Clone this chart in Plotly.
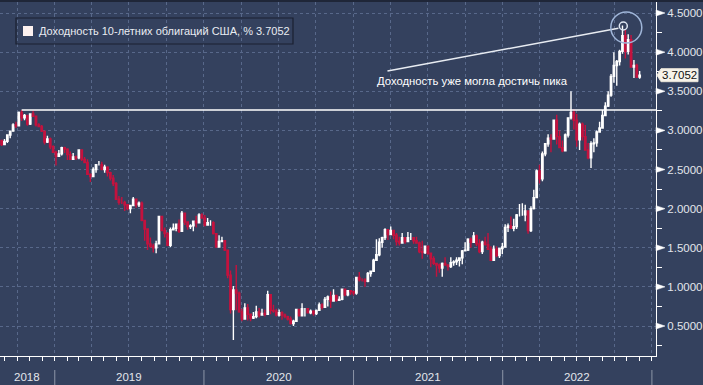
import pandas as pd
import plotly.graph_objects as go

# ---------------- data (weekly bars, Fridays) ----------------
first_week = "2018-08-24"

open_ = [
    2.87, 2.82, 2.86, 2.94, 2.99, 3.07, 3.06, 3.23, 3.16, 3.19, 3.08, 3.21, 3.18, 3.07, 3.05, 2.99, 2.85, 2.89, 2.79,
    2.72, 2.67, 2.70, 2.78, 2.76, 2.69, 2.63, 2.66, 2.65, 2.75, 2.63, 2.59, 2.44, 2.41, 2.50, 2.56, 2.56, 2.50, 2.53, 2.46,
    2.39, 2.32, 2.12, 2.08, 2.08, 2.05, 2.00, 2.04, 2.12, 2.05, 2.07, 1.85, 1.74, 1.55, 1.52, 1.50, 1.55, 1.90, 1.72, 1.68,
    1.53, 1.73, 1.75, 1.80, 1.71, 1.94, 1.83, 1.77, 1.78, 1.84, 1.82, 1.92,
    1.88, 1.79, 1.82, 1.82, 1.68, 1.51, 1.58, 1.59, 1.47, 1.15, 0.71, 0.96, 0.92, 0.68, 0.59, 0.73, 0.65, 0.60, 0.62, 0.68,
    0.64, 0.66, 0.65, 0.90, 0.70, 0.69, 0.64, 0.67, 0.64, 0.62, 0.59, 0.53, 0.56, 0.71, 0.63, 0.72, 0.72, 0.67, 0.69, 0.66,
    0.70, 0.77, 0.74, 0.84, 0.87, 0.82, 0.89, 0.83, 0.84, 0.97, 0.90, 0.95,
    0.94, 0.92, 1.12, 1.09, 1.09, 1.07, 1.17, 1.20, 1.34, 1.41, 1.57, 1.63, 1.73, 1.67, 1.72, 1.66, 1.58, 1.56, 1.63, 1.58,
    1.63, 1.63, 1.59, 1.56, 1.45, 1.44, 1.52, 1.43, 1.36, 1.30, 1.28, 1.24, 1.30, 1.28, 1.26, 1.31, 1.32, 1.34, 1.37, 1.46,
    1.47, 1.61, 1.57, 1.65, 1.55, 1.45, 1.57, 1.54, 1.48, 1.34, 1.48, 1.40, 1.49,
    1.51, 1.76, 1.78, 1.75, 1.77, 1.92, 1.92, 1.92, 1.97, 1.72, 2.00, 2.14, 2.48, 2.38, 2.70, 2.83, 2.90, 2.89, 3.13, 2.92,
    2.78, 2.74, 2.94, 3.16, 3.23, 3.13, 2.88, 3.08, 2.92, 2.75, 2.65, 2.83, 2.84, 2.98, 3.03, 3.19, 3.31, 3.45, 3.69, 3.83,
    3.88, 4.01, 4.21, 4.01, 4.16, 3.81, 3.83, 3.68,
]
high = [
    2.87, 2.89, 2.94, 3.00, 3.09, 3.11, 3.24, 3.26, 3.21, 3.20, 3.22, 3.25, 3.19, 3.09, 3.07, 3.00, 2.93, 2.91, 2.81,
    2.74, 2.75, 2.79, 2.79, 2.77, 2.73, 2.71, 2.68, 2.76, 2.76, 2.66, 2.63, 2.45, 2.53, 2.57, 2.61, 2.60, 2.56, 2.54, 2.47,
    2.43, 2.34, 2.16, 2.15, 2.10, 2.06, 2.05, 2.15, 2.13, 2.09, 2.09, 1.85, 1.74, 1.63, 1.55, 1.59, 1.91, 1.90, 1.76, 1.70,
    1.76, 1.81, 1.81, 1.86, 1.97, 1.95, 1.83, 1.80, 1.84, 1.91, 1.94, 1.94,
    1.92, 1.88, 1.85, 1.84, 1.69, 1.66, 1.64, 1.60, 1.47, 1.21, 1.01, 1.28, 0.94, 0.72, 0.79, 0.78, 0.66, 0.68, 0.76, 0.73,
    0.72, 0.71, 0.95, 0.90, 0.77, 0.72, 0.71, 0.69, 0.66, 0.63, 0.62, 0.58, 0.72, 0.72, 0.79, 0.73, 0.72, 0.71, 0.70, 0.71,
    0.80, 0.79, 0.87, 0.89, 0.94, 0.97, 0.89, 0.88, 0.98, 0.97, 0.96, 0.96,
    0.95, 1.13, 1.19, 1.11, 1.11, 1.19, 1.21, 1.36, 1.61, 1.62, 1.64, 1.75, 1.74, 1.77, 1.73, 1.69, 1.64, 1.69, 1.63, 1.70,
    1.69, 1.63, 1.64, 1.58, 1.59, 1.53, 1.52, 1.44, 1.39, 1.30, 1.30, 1.31, 1.38, 1.29, 1.38, 1.34, 1.38, 1.38, 1.47, 1.57,
    1.62, 1.63, 1.70, 1.67, 1.61, 1.59, 1.64, 1.69, 1.52, 1.53, 1.52, 1.50, 1.56,
    1.80, 1.81, 1.90, 1.87, 1.93, 2.06, 2.07, 2.05, 1.98, 2.03, 2.24, 2.50, 2.56, 2.73, 2.84, 2.95, 2.95, 3.14, 3.20, 3.00,
    2.87, 2.96, 3.16, 3.50, 3.27, 3.21, 3.10, 3.10, 3.07, 2.84, 2.86, 2.90, 3.00, 3.11, 3.26, 3.36, 3.50, 3.72, 4.00, 3.90,
    4.03, 4.34, 4.29, 4.23, 4.22, 3.90, 3.85, 3.76,
]
low = [
    2.80, 2.81, 2.84, 2.90, 2.99, 3.03, 3.05, 3.12, 3.13, 3.06, 3.07, 3.17, 3.05, 3.04, 2.98, 2.82, 2.84, 2.76, 2.71,
    2.55, 2.66, 2.68, 2.71, 2.62, 2.62, 2.63, 2.62, 2.63, 2.61, 2.58, 2.43, 2.34, 2.40, 2.46, 2.55, 2.49, 2.46, 2.41, 2.36,
    2.29, 2.12, 2.05, 2.06, 1.97, 1.98, 1.94, 2.03, 2.01, 2.02, 1.84, 1.59, 1.47, 1.50, 1.44, 1.43, 1.55, 1.71, 1.63, 1.52,
    1.51, 1.72, 1.71, 1.69, 1.71, 1.79, 1.73, 1.74, 1.71, 1.76, 1.81, 1.87,
    1.77, 1.78, 1.78, 1.67, 1.50, 1.50, 1.57, 1.46, 1.11, 0.66, 0.32, 0.70, 0.67, 0.56, 0.59, 0.57, 0.56, 0.59, 0.60, 0.61,
    0.63, 0.62, 0.65, 0.65, 0.67, 0.62, 0.62, 0.58, 0.60, 0.57, 0.52, 0.50, 0.55, 0.62, 0.63, 0.62, 0.66, 0.65, 0.63, 0.64,
    0.70, 0.71, 0.74, 0.75, 0.73, 0.82, 0.81, 0.82, 0.83, 0.88, 0.88, 0.90,
    0.89, 0.90, 1.07, 1.07, 1.00, 1.06, 1.13, 1.20, 1.33, 1.39, 1.50, 1.60, 1.60, 1.66, 1.61, 1.53, 1.53, 1.55, 1.55, 1.57,
    1.60, 1.55, 1.55, 1.43, 1.36, 1.42, 1.41, 1.25, 1.28, 1.13, 1.18, 1.13, 1.27, 1.21, 1.24, 1.27, 1.28, 1.26, 1.29, 1.46,
    1.46, 1.50, 1.56, 1.52, 1.43, 1.42, 1.53, 1.47, 1.34, 1.34, 1.38, 1.37, 1.42,
    1.50, 1.70, 1.74, 1.71, 1.74, 1.90, 1.91, 1.84, 1.68, 1.70, 1.99, 2.14, 2.32, 2.35, 2.67, 2.79, 2.72, 2.89, 2.82, 2.78,
    2.72, 2.73, 2.91, 3.14, 3.01, 2.79, 2.75, 2.87, 2.74, 2.63, 2.52, 2.72, 2.79, 2.97, 3.03, 3.19, 3.30, 3.43, 3.61, 3.57,
    3.83, 3.98, 3.92, 3.97, 3.81, 3.67, 3.67, 3.66,
]
close = [
    2.82, 2.86, 2.94, 2.99, 3.07, 3.06, 3.23, 3.16, 3.19, 3.08, 3.21, 3.18, 3.07, 3.05, 2.99, 2.85, 2.89, 2.79, 2.72,
    2.67, 2.70, 2.78, 2.76, 2.69, 2.63, 2.66, 2.65, 2.75, 2.63, 2.59, 2.44, 2.41, 2.50, 2.56, 2.56, 2.50, 2.53, 2.46, 2.39,
    2.32, 2.12, 2.08, 2.08, 2.05, 2.00, 2.04, 2.12, 2.05, 2.07, 1.85, 1.74, 1.55, 1.52, 1.50, 1.55, 1.90, 1.72, 1.68, 1.53,
    1.73, 1.75, 1.80, 1.71, 1.94, 1.83, 1.77, 1.78, 1.84, 1.82, 1.92, 1.88,
    1.79, 1.82, 1.82, 1.68, 1.51, 1.58, 1.59, 1.47, 1.15, 0.71, 0.96, 0.92, 0.68, 0.59, 0.73, 0.65, 0.60, 0.62, 0.68, 0.64,
    0.66, 0.65, 0.90, 0.70, 0.69, 0.64, 0.67, 0.64, 0.62, 0.59, 0.53, 0.56, 0.71, 0.63, 0.72, 0.72, 0.67, 0.69, 0.66, 0.70,
    0.77, 0.74, 0.84, 0.87, 0.82, 0.89, 0.83, 0.84, 0.97, 0.90, 0.95, 0.94,
    0.92, 1.12, 1.09, 1.09, 1.07, 1.17, 1.20, 1.34, 1.41, 1.57, 1.63, 1.73, 1.67, 1.72, 1.66, 1.58, 1.56, 1.63, 1.58, 1.63,
    1.63, 1.59, 1.56, 1.45, 1.44, 1.52, 1.43, 1.36, 1.30, 1.28, 1.24, 1.30, 1.28, 1.26, 1.31, 1.32, 1.34, 1.37, 1.46, 1.47,
    1.61, 1.57, 1.65, 1.55, 1.45, 1.57, 1.54, 1.48, 1.34, 1.48, 1.40, 1.49, 1.51,
    1.76, 1.78, 1.75, 1.77, 1.92, 1.92, 1.92, 1.97, 1.72, 2.00, 2.14, 2.48, 2.38, 2.70, 2.83, 2.90, 2.89, 3.13, 2.92, 2.78,
    2.74, 2.94, 3.16, 3.23, 3.13, 2.88, 3.08, 2.92, 2.75, 2.65, 2.83, 2.84, 2.98, 3.03, 3.19, 3.31, 3.45, 3.69, 3.83, 3.88,
    4.01, 4.21, 4.01, 4.16, 3.81, 3.83, 3.68, 3.7052,
]

last_value = 3.7052
resistance_level = 3.26
peak_date, peak_value = "2022-10-23", 4.334
y_tick_values = [0.5, 1.0, 1.5, 2.0, 2.5, 3.0, 3.5, 4.0, 4.5]
year_labels = ["2018", "2019", "2020", "2021", "2022"]
series_name = "Доходность 10-летних облигаций США, %"
note_text = "Доходность уже могла достичь пика"

dates = pd.date_range(first_week, periods=len(close), freq="7D")

# ---------------- layout geometry ----------------
W, H = 703, 385
ML, MR, MT, MB = 0, 47, 2, 29
PW, PH = W - ML - MR, H - MT - MB
x_range = ["2018-08-20", "2023-01-11"]
y_range = [0.1166, 4.6406]
px_per_unit = PH / (y_range[1] - y_range[0])

BG = "#34415e"
GRID = "#58688a"
RED = "#c4123e"
WHITE = "#ffffff"
FONT = "Liberation Sans"


def pxx(px):
    return (px - ML) / PW


def pxy(py):
    return 1 - (py - MT) / PH


fig = go.Figure()
fig.add_trace(go.Candlestick(
    x=dates, open=open_, high=high, low=low, close=close,
    increasing=dict(line=dict(color=WHITE, width=1.4), fillcolor=WHITE),
    decreasing=dict(line=dict(color=RED, width=1.4), fillcolor=RED),
    whiskerwidth=0, showlegend=False, hoverinfo="skip",
))

shapes = []
annotations = []

# top dark strip
shapes.append(dict(type="rect", xref="paper", yref="paper", x0=0, x1=W / PW,
                   y0=1, y1=pxy(0), fillcolor="#1f2638", line=dict(width=0), layer="above"))

# horizontal level line
shapes.append(dict(type="line", xref="x", yref="y", x0="2018-10-12", x1=x_range[1],
                   y0=resistance_level, y1=resistance_level, line=dict(color=WHITE, width=1.5)))

# callout line to the peak
shapes.append(dict(type="line", xref="x", yref="y", x0="2021-03-25", y0=3.76,
                   x1="2022-10-11", y1=4.305, line=dict(color="#e8ecf2", width=1.5)))
# circles at the peak
shapes.append(dict(type="circle", xref="x", yref="y", xsizemode="pixel", ysizemode="pixel",
                   xanchor=peak_date, yanchor=peak_value, x0=-4, x1=4, y0=-4, y1=4,
                   line=dict(color="#dfe7f3", width=1.5)))
shapes.append(dict(type="circle", xref="x", yref="y", xsizemode="pixel", ysizemode="pixel",
                   xanchor=peak_date, yanchor=peak_value, x0=-12.5, x1=18.5, y0=-17, y1=14,
                   line=dict(color="#9fb5d8", width=1.5)))

# legend box
shapes.append(dict(type="rect", xref="paper", yref="paper", x0=pxx(16), x1=pxx(293),
                   y0=pxy(44), y1=pxy(18), line=dict(color="#1b2131", width=1.2)))
shapes.append(dict(type="rect", xref="paper", yref="paper", x0=pxx(23), x1=pxx(33),
                   y0=pxy(36), y1=pxy(26), fillcolor="#fdf1ef", line=dict(width=0)))
annotations.append(dict(xref="paper", yref="paper", x=pxx(37), y=pxy(31), xanchor="left",
                        yanchor="middle", showarrow=False,
                        text=f"{series_name} {last_value:.4f}",
                        font=dict(family=FONT, size=11, color="#e9ecf2")))

# note text
annotations.append(dict(xref="x", yref="y", x="2021-10-18", y=3.631, showarrow=False,
                        text=note_text, font=dict(family=FONT, size=11.3, color=WHITE)))

# year separators and labels
sep_years = [int(y) + 1 for y in year_labels]
for y in sep_years:
    shapes.append(dict(type="line", xref="x", yref="paper", x0=f"{y}-01-01", x1=f"{y}-01-01",
                       y0=pxy(370), y1=pxy(385), line=dict(color="#8d96a8", width=1)))
r0, r1 = pd.Timestamp(x_range[0]), pd.Timestamp(x_range[1])
for lab in year_labels:
    s = max(pd.Timestamp(f"{lab}-01-01"), r0)
    e = min(pd.Timestamp(f"{int(lab) + 1}-01-01"), r1)
    mid = s + (e - s) / 2
    annotations.append(dict(xref="x", yref="paper", x=mid, y=pxy(377), showarrow=False,
                            yanchor="middle", text=lab,
                            font=dict(family=FONT, size=11.5, color="#e3e6ec")))

# triangular major ticks on the y axis
d = 3 / px_per_unit
for v in y_tick_values:
    shapes.append(dict(type="path", xref="paper", yref="y",
                       path=f"M {pxx(656)} {v + d} L {pxx(665)} {v} L {pxx(656)} {v - d} Z",
                       fillcolor=WHITE, line=dict(color=WHITE, width=0.5)))

# last-value label with left pointer
h = 6.5 / px_per_unit
shapes.append(dict(type="path", xref="paper", yref="y",
                   path=(f"M {pxx(657)} {last_value} L {pxx(661)} {last_value + h} "
                         f"L {pxx(698)} {last_value + h} L {pxx(698)} {last_value - h} "
                         f"L {pxx(661)} {last_value - h} Z"),
                   fillcolor="#f7f3ea", line=dict(color="#e9e4d8", width=1)))
annotations.append(dict(xref="paper", yref="y", x=pxx(679.5), y=last_value, showarrow=False,
                        text=f"{last_value:.4f}", xanchor="center", yanchor="middle",
                        font=dict(family=FONT, size=11.5, color="#111111")))

fig.update_layout(
    width=W, height=H,
    margin=dict(l=ML, r=MR, t=MT, b=MB),
    paper_bgcolor=BG, plot_bgcolor=BG,
    hovermode=False,
    showlegend=False,
    shapes=shapes,
    annotations=annotations,
    font=dict(family=FONT, size=11, color="#e3e6ec"),
    xaxis=dict(
        type="date", range=x_range,
        rangeslider=dict(visible=False),
        showline=True, linecolor=WHITE, linewidth=1,
        ticks="outside", ticklen=4, tickcolor=WHITE, tickwidth=1,
        dtick="M3", tick0="2018-01-01",
        showticklabels=False,
        showgrid=True, gridcolor=GRID, griddash="3px,3px", gridwidth=1,
        zeroline=False,
        minor=dict(dtick="M1", tick0="2018-01-01", ticks="outside", ticklen=4,
                   tickcolor=WHITE, showgrid=False),
    ),
    yaxis=dict(
        side="right", range=y_range,
        tickvals=y_tick_values, ticktext=[f"{v:.4f}" for v in y_tick_values],
        ticks="outside", ticklen=8, tickcolor="rgba(0,0,0,0)",
        tickfont=dict(family=FONT, size=11.5, color="#e3e6ec"),
        showline=True, linecolor=WHITE, linewidth=1,
        showgrid=True, gridcolor=GRID, griddash="3px,3px", gridwidth=1,
        zeroline=False,
        minor=dict(dtick=0.25, tick0=0.25, ticks="outside", ticklen=5,
                   tickcolor=WHITE, showgrid=False),
    ),
)

fig.write_html("out.html")
